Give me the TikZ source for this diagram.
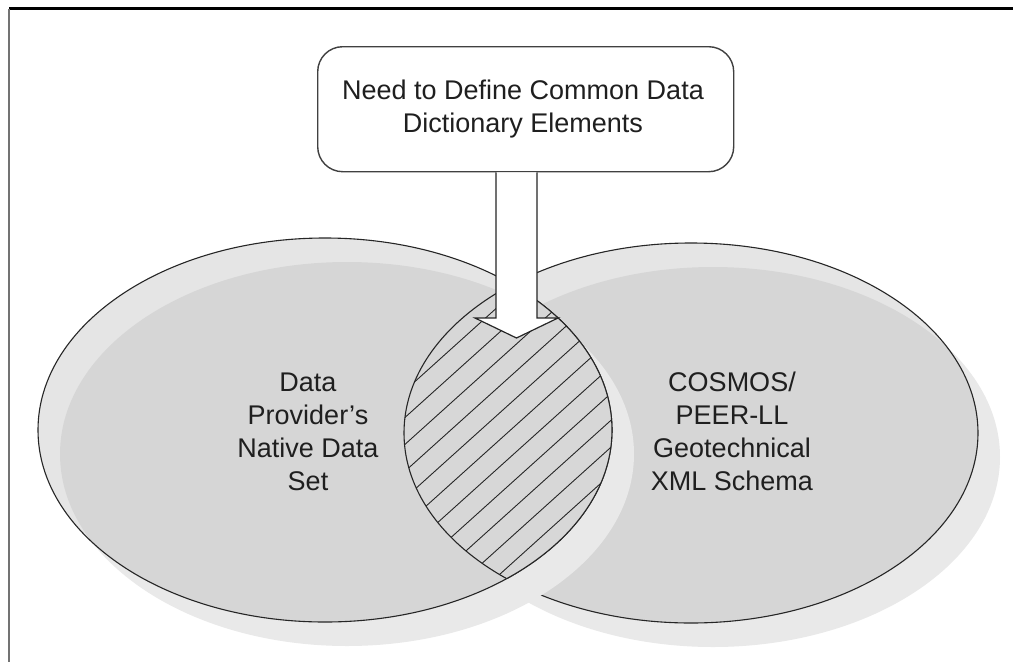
\documentclass[tikz,border=0pt]{standalone}
\usepackage{fontspec}
\setmainfont{Liberation Sans}
\begin{document}
\begin{tikzpicture}[x=1pt,y=-1pt,
  shadowfill/.style={fill=shadowc},
  setfill/.style={fill=setc,fill opacity=0.32},
  outline/.style={draw=black!85,line width=1.1pt},
  hatchline/.style={draw=black!85,line width=0.9pt},
  label/.style={align=center,font=\fontsize{27}{33}\selectfont,text=black!88,inner sep=0pt},
  blockarrow/.style={fill=white,draw=black!85,line width=1.2pt,line join=miter},
  notebox/.style={fill=white,draw=black!75,line width=1.4pt,rounded corners=25pt}]
\definecolor{shadowc}{gray}{0.914}
\definecolor{setc}{gray}{0.69}
\definecolor{lensc}{gray}{0.845}
\useasboundingbox (0,0) rectangle (1013,662);
\fill[white] (0,0) rectangle (1013,662);
% frame
\coordinate (fTL) at (9,8.5);
\coordinate (fTR) at (1013,8.5);
\coordinate (fBL) at (9,662);
\draw[black,line width=2.4pt] (fTL) -- (fTR);
\draw[black!55,line width=2.4pt] (fTL) -- (fBL);
% centres
\coordinate (L) at (325,430);
\coordinate (R) at (691,433);
% right set (below)
\fill[shadowfill] ([shift={(22,24)}]R) ellipse [x radius=287,y radius=190];
\fill[setfill] (R) ellipse [x radius=287,y radius=190];
\draw[outline] (R) ellipse [x radius=287,y radius=190];
% left set
\fill[shadowfill] ([shift={(22,24)}]L) ellipse [x radius=287,y radius=192];
\fill[setfill] (L) ellipse [x radius=287,y radius=192];
\draw[outline] (L) ellipse [x radius=287,y radius=192];
% lens
\begin{scope}
  \clip (L) ellipse [x radius=287,y radius=192];
  \fill[lensc] (R) ellipse [x radius=287,y radius=190];
  \clip (R) ellipse [x radius=287,y radius=190];
  \foreach \k in {-16,...,16}{
    \draw[hatchline] ({510+\k*13.38-297},{430+\k*14.86+268}) -- ++(594,-535);
  }
\end{scope}
\begin{scope}
  \clip (L) ellipse [x radius=287,y radius=192];
  \draw[outline] (R) ellipse [x radius=287,y radius=190];
\end{scope}
\begin{scope}
  \clip (R) ellipse [x radius=287,y radius=190];
  \draw[outline] (L) ellipse [x radius=287,y radius=192];
\end{scope}
% note box and arrow
\node[notebox,minimum width=416pt,minimum height=125pt,anchor=north west] (box) at (317,46) {};
\coordinate (tip) at (516.5,338);
\coordinate (sl) at (496,318);
\coordinate (sr) at (537,318);
\draw[blockarrow] (sl |- box.south) -- (sl) -- (475,318) -- (tip) -- (558,318) -- (sr) -- (sr |- box.south);
\node[label] (need) at (523,109.5) {Need to Define Common Data\\Dictionary Elements};
\node[label] (ltext) at (308,431.5) {Data\\Provider’s\\Native Data\\Set};
\node[label] (rtext) at (732,431.5) {COSMOS/\\PEER-LL\\Geotechnical\\XML Schema};
\end{tikzpicture}
\end{document}
